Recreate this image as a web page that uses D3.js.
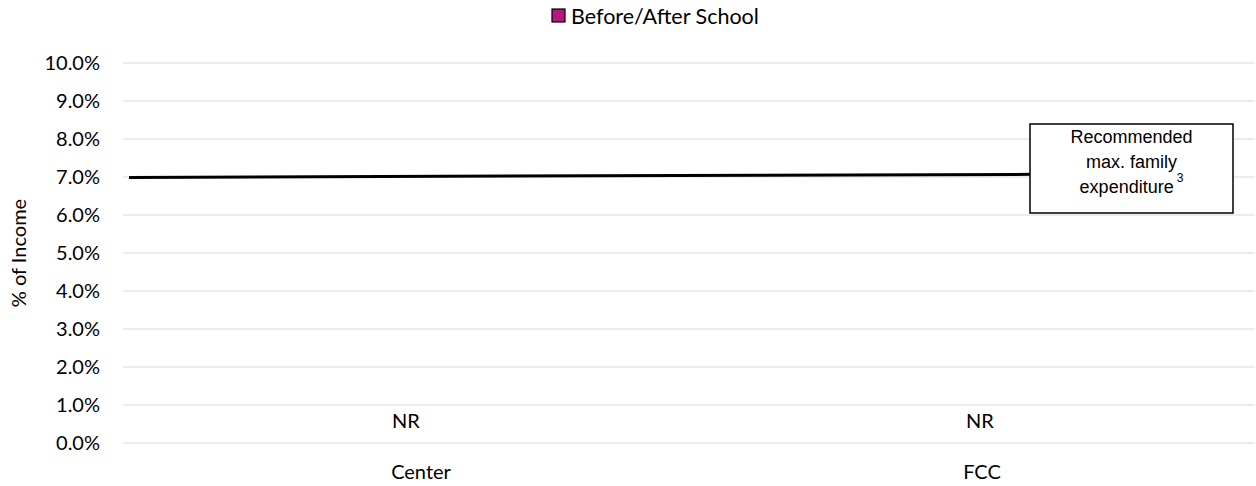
<!DOCTYPE html>
<html>
<head>
<meta charset="utf-8">
<script src="https://cdn.jsdelivr.net/npm/d3@7"></script>
<style>
    body { margin: 0; background: #fff; }
    svg text { font-family: Lato, "Open Sans", sans-serif; fill: #000; }
    .box-text { font-family: "Liberation Sans", Arial, sans-serif; }
</style>
</head>
<body>
<svg id="chart" width="1256" height="486"></svg>
<script>
    // chart data
    const categories = ['Center', 'FCC'];
    const seriesName = 'Before/After School';
    const barValues = [null, null];          // not reported -> "NR"
    const yTicks = [0, 1, 2, 3, 4, 5, 6, 7, 8, 9, 10];
    const refLineValues = [6.99, 7.07];      // recommended max. family expenditure
    const refLabel = ['Recommended', 'max. family', 'expenditure'];

    const svg = d3.select('#chart');
    const plot = { left: 123, right: 1255, top: 63, bottom: 443 };
    const FONT = '20px';

    const x = d3.scaleBand().domain(categories).range([plot.left, plot.right]);
    const y = d3.scaleLinear().domain([0, 10]).range([plot.bottom, plot.top]);

    // gridlines
    svg.append('g')
        .selectAll('line')
        .data(yTicks)
        .enter()
        .append('line')
        .attr('x1', plot.left)
        .attr('x2', plot.right)
        .attr('y1', d => y(d))
        .attr('y2', d => y(d))
        .attr('stroke', '#d9d9d9')
        .attr('stroke-width', 1);

    // y axis labels
    svg.append('g')
        .selectAll('text')
        .data(yTicks)
        .enter()
        .append('text')
        .attr('x', 100)
        .attr('y', d => y(d))
        .attr('dy', '0.35em')
        .attr('text-anchor', 'end')
        .style('font-size', FONT)
        .text(d => d.toFixed(1) + '%');

    svg.append('text')
        .attr('transform', 'translate(26,' + ((plot.top + plot.bottom) / 2) + ') rotate(-90)')
        .attr('text-anchor', 'middle')
        .style('font-size', FONT)
        .text('% of Income');

    // category labels (small nudge like the original)
    const labelNudge = { Center: 15, FCC: 10 };
    const nrNudge = { Center: 0, FCC: 8 };
    svg.append('g')
        .selectAll('text')
        .data(categories)
        .enter()
        .append('text')
        .attr('x', d => x(d) + x.bandwidth() / 2 + labelNudge[d])
        .attr('y', 479)
        .attr('text-anchor', 'middle')
        .style('font-size', FONT)
        .text(d => d);

    // bars: values not reported
    svg.append('g')
        .selectAll('text')
        .data(categories.map((c, i) => ({ cat: c, value: barValues[i] })))
        .enter()
        .append('text')
        .attr('x', d => x(d.cat) + x.bandwidth() / 2 + nrNudge[d.cat])
        .attr('y', d => y(d.value || 0) - 15)
        .attr('text-anchor', 'middle')
        .style('font-size', FONT)
        .text(d => d.value === null ? 'NR' : d.value.toFixed(1) + '%');

    // recommended line
    const lx = d3.scaleLinear().domain([0, 1]).range([129, 1031]);
    const line = d3.line()
        .x((d, i) => lx(i))
        .y(d => y(d));
    svg.append('path')
        .datum(refLineValues)
        .attr('d', line)
        .attr('fill', 'none')
        .attr('stroke', '#000')
        .attr('stroke-width', 3);

    // label box
    const box = { x: 1030, y: 124, w: 203, h: 89 };
    svg.append('rect')
        .attr('x', box.x)
        .attr('y', box.y)
        .attr('width', box.w)
        .attr('height', box.h)
        .attr('fill', '#fff')
        .attr('stroke', '#000')
        .attr('stroke-width', 1.5);

    refLabel.forEach((t, i) => {
        const lineText = svg.append('text')
            .attr('class', 'box-text')
            .attr('x', box.x + box.w / 2)
            .attr('y', box.y + 19 + i * 25)
            .attr('text-anchor', 'middle')
            .style('font-size', '18px');
        lineText.append('tspan').text(t);
        if (i === refLabel.length - 1) {
            lineText.append('tspan')
                .attr('dx', 3)
                .attr('dy', -11)
                .style('font-size', '12px')
                .text('3');
        }
    });

    // legend
    const legend = svg.append('g').attr('transform', 'translate(552,9)');
    legend.append('rect')
        .attr('width', 13)
        .attr('height', 13)
        .attr('fill', '#b5177f')
        .attr('stroke', '#000')
        .attr('stroke-width', 1.2);
    legend.append('text')
        .attr('x', 19)
        .attr('y', 7)
        .attr('dy', '0.35em')
        .style('font-size', '21.5px')
        .text(seriesName);
</script>
</body>
</html>
